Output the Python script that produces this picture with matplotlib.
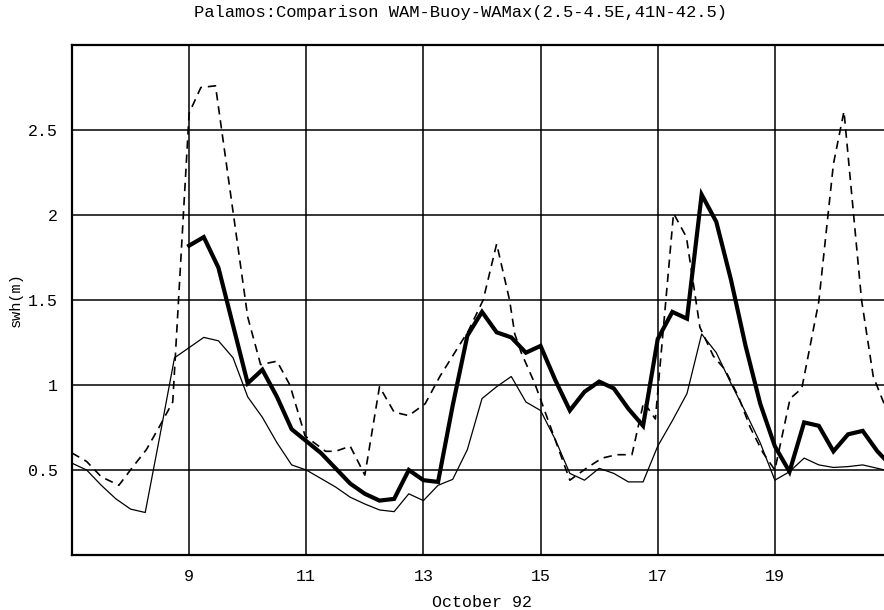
import matplotlib
matplotlib.use("Agg")
import matplotlib.pyplot as plt

# WAM model (thick line), 6-hourly from 9 Oct
wam_t = [9.00, 9.25, 9.50, 9.75, 10.00, 10.25, 10.50, 10.75, 11.00, 11.25, 11.50, 11.75,
         12.00, 12.25, 12.50, 12.75, 13.00, 13.25, 13.50, 13.75, 14.00, 14.25, 14.50, 14.75,
         15.00, 15.25, 15.50, 15.75, 16.00, 16.25, 16.50, 16.75, 17.00, 17.25, 17.50, 17.75,
         18.00, 18.25, 18.50, 18.75, 19.00, 19.25, 19.50, 19.75, 20.00, 20.25, 20.50, 20.75, 21.00]
wam_h = [1.82, 1.87, 1.69, 1.35, 1.01, 1.09, 0.93, 0.74, 0.67, 0.60, 0.51, 0.42,
         0.36, 0.32, 0.33, 0.50, 0.44, 0.43, 0.88, 1.29, 1.43, 1.31, 1.28, 1.19,
         1.23, 1.03, 0.85, 0.96, 1.02, 0.98, 0.86, 0.76, 1.27, 1.43, 1.39, 2.12,
         1.96, 1.62, 1.23, 0.89, 0.64, 0.49, 0.78, 0.76, 0.61, 0.71, 0.73, 0.61, 0.52]

# buoy (thin line)
buoy_t = [7.00, 7.25, 7.50, 7.75, 8.00, 8.25, 8.50, 8.75, 9.00, 9.25, 9.50, 9.75,
          10.00, 10.25, 10.50, 10.75, 11.00, 11.25, 11.50, 11.75, 12.00, 12.25, 12.50, 12.75,
          13.00, 13.25, 13.50, 13.75, 14.00, 14.25, 14.50, 14.75, 15.00, 15.25, 15.50, 15.75,
          16.00, 16.25, 16.50, 16.75, 17.00, 17.25, 17.50, 17.75, 18.00, 18.25, 18.50, 18.75,
          19.00, 19.25, 19.50, 19.75, 20.00, 20.25, 20.50, 20.75, 21.00]
buoy_h = [0.54, 0.50, 0.41, 0.33, 0.27, 0.25, 0.70, 1.16, 1.22, 1.28, 1.26, 1.16,
          0.93, 0.81, 0.66, 0.53, 0.50, 0.45, 0.40, 0.34, 0.30, 0.265, 0.255, 0.36,
          0.32, 0.41, 0.445, 0.62, 0.92, 0.99, 1.05, 0.90, 0.85, 0.68, 0.48, 0.44,
          0.51, 0.48, 0.43, 0.43, 0.64, 0.79, 0.95, 1.30, 1.19, 1.01, 0.84, 0.66,
          0.44, 0.49, 0.57, 0.53, 0.515, 0.52, 0.53, 0.51, 0.49]

# WAMax (dashed line)
wamax_t = [7.00, 7.25, 7.50, 7.80, 8.02, 8.27, 8.50, 8.72, 9.00, 9.20, 9.45, 10.00,
           10.22, 10.50, 10.72, 10.98, 11.33, 11.50, 11.75, 12.00, 12.25, 12.50, 12.75, 13.03,
           13.28, 13.57, 13.77, 14.02, 14.25, 14.47, 14.56, 14.67, 14.90, 15.50, 15.78, 16.05,
           16.30, 16.56, 16.76, 16.96, 17.27, 17.49, 17.72, 17.95, 18.15, 18.38, 18.58, 18.80,
           19.00, 19.26, 19.46, 19.75, 20.00, 20.18, 20.48, 20.68, 20.90]
wamax_h = [0.60, 0.55, 0.46, 0.41, 0.51, 0.62, 0.76, 0.90, 2.60, 2.75, 2.76, 1.40,
           1.12, 1.14, 1.00, 0.70, 0.61, 0.61, 0.64, 0.47, 0.99, 0.84, 0.82, 0.89,
           1.05, 1.21, 1.32, 1.50, 1.83, 1.50, 1.30, 1.19, 1.01, 0.44, 0.51, 0.57,
           0.59, 0.59, 0.90, 0.80, 2.01, 1.87, 1.34, 1.17, 1.09, 0.93, 0.75, 0.60,
           0.50, 0.92, 0.98, 1.49, 2.30, 2.61, 1.50, 1.05, 0.86]

x_ticks = [9, 11, 13, 15, 17, 19]
y_ticks = [0.5, 1, 1.5, 2, 2.5]
y_tick_labels = ["0.5", "1", "1.5", "2", "2.5"]

plt.rcParams['font.family'] = ['Liberation Mono', 'DejaVu Sans Mono']

fig = plt.figure(figsize=(8.84, 6.10), dpi=100)
# right edge of the axes runs a little past the figure, as in the scan
ax = fig.add_axes([72 / 884, 55 / 610, 820 / 884, 510 / 610])

ax.plot(buoy_t, buoy_h, color="black", lw=0.9)
ax.plot(wamax_t, wamax_h, color="black", lw=1.2, linestyle=(0, (5, 3.5)))
ax.plot(wam_t, wam_h, color="black", lw=3.0, solid_joinstyle="miter")

ax.set_xlim(7, 21)
ax.set_ylim(0, 3)
ax.set_xticks(x_ticks)
ax.set_xticklabels([str(t) for t in x_ticks])
ax.set_yticks(y_ticks)
ax.set_yticklabels(y_tick_labels)
ax.tick_params(length=0, labelsize=12, pad=10)
ax.tick_params(axis="y", pad=10)
ax.grid(True, color="black", lw=1.1)
ax.set_axisbelow(True)
for s in ax.spines.values():
    s.set_linewidth(1.6)

ax.set_xlabel("October 92", fontsize=12, labelpad=8)
ax.set_ylabel("swh(m)", fontsize=11, labelpad=4)
fig.text(460 / 884, 1 - 12 / 610, "Palamos:Comparison WAM-Buoy-WAMax(2.5-4.5E,41N-42.5)",
         ha="center", va="center", fontsize=12.3)

fig.savefig("out.png", dpi=100)
